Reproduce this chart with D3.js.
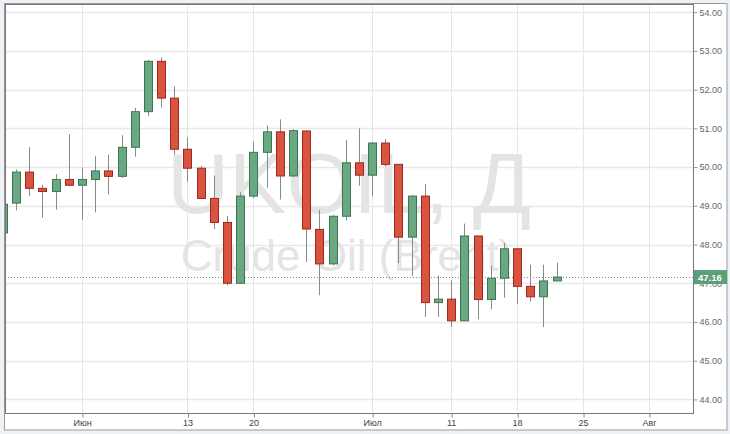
<!DOCTYPE html>
<html>
<head>
<meta charset="utf-8">
<script src="https://cdn.jsdelivr.net/npm/d3@7"></script>
<style>
  body { margin: 0; background: #eef2f6; }
  svg { display: block; font-family: "Liberation Sans", Arial, sans-serif; }
</style>
</head>
<body>
<div id="chart"></div>
<script>
// UKOIL daily candles (May 24 - Jul 21, 2016)
const dates = [
  "2016-05-24","2016-05-25","2016-05-26","2016-05-27","2016-05-30","2016-05-31",
  "2016-06-01","2016-06-02","2016-06-03","2016-06-06","2016-06-07","2016-06-08","2016-06-09","2016-06-10",
  "2016-06-13","2016-06-14","2016-06-15","2016-06-16","2016-06-17","2016-06-20","2016-06-21","2016-06-22",
  "2016-06-23","2016-06-24","2016-06-27","2016-06-28","2016-06-29","2016-06-30",
  "2016-07-01","2016-07-04","2016-07-05","2016-07-06","2016-07-07","2016-07-08","2016-07-11","2016-07-12",
  "2016-07-13","2016-07-14","2016-07-15","2016-07-18","2016-07-19","2016-07-20","2016-07-21"
];
const open  = [48.30,49.07,49.87,49.45,49.37,49.68,49.53,49.68,49.90,49.76,50.51,51.43,52.73,51.78,
               50.46,49.97,49.19,48.57,47.00,49.25,50.38,50.91,49.77,50.93,48.39,47.50,48.73,50.11,
               49.79,50.62,50.07,48.19,49.25,46.50,46.59,46.03,48.22,46.58,47.13,47.89,46.92,46.65,47.06];
const high  = [49.05,49.94,50.51,49.54,49.82,50.85,49.99,50.28,50.32,50.82,51.53,52.77,52.83,52.08,
               50.77,50.03,49.78,48.74,49.35,50.66,51.07,51.23,50.98,50.95,48.89,48.76,50.70,51.00,
               50.64,50.72,50.08,49.28,49.56,47.20,47.08,48.54,48.23,47.45,48.04,47.90,47.48,47.48,47.53];
const low   = [48.28,48.88,49.25,48.69,48.90,49.52,48.64,48.83,49.29,49.72,50.27,51.32,51.54,50.32,
               49.62,49.18,48.40,46.94,46.98,49.20,49.46,49.16,49.75,47.55,46.69,47.46,48.62,49.52,
               49.25,50.02,47.52,47.19,46.13,46.13,45.87,46.02,46.07,46.33,46.63,46.47,46.52,45.87,47.05];
const close = [49.04,49.87,49.45,49.37,49.68,49.53,49.68,49.90,49.76,50.51,51.43,52.73,51.78,50.46,
               49.97,49.19,48.57,47.00,49.25,50.38,50.91,49.77,50.94,48.40,47.50,48.73,50.11,49.79,
               50.62,50.07,48.19,49.25,46.50,46.59,46.03,48.22,46.58,47.13,47.89,46.92,46.65,47.06,47.16];

const tickDates  = ["2016-06-01","2016-06-13","2016-06-20","2016-07-01","2016-07-11","2016-07-18","2016-07-25","2016-08-01"];
const tickLabels = ["Июн","13","20","Июл","11","18","25","Авг"];
const priceTicks = [44,45,46,47,48,49,50,51,52,53,54];
const lastPrice = 47.16;
const titleText = "UKOIL, Д";
const subtitleText = "Crude Oil (Brent)";

const W = 730, H = 434;
const plot = { left: 5, top: 4, right: 693, bottom: 413 };

// index of a date counted in weekdays from the first candle
const start = new Date(dates[0] + "T00:00:00Z");
function tradeIndex(s) {
  const d = new Date(s + "T00:00:00Z");
  let n = 0;
  for (let t = new Date(start); t < d; t.setUTCDate(t.getUTCDate() + 1)) {
    const w = t.getUTCDay();
    if (w !== 0 && w !== 6) n++;
  }
  return n;
}

const data = dates.map((d, i) => ({
  i: tradeIndex(d), open: open[i], high: high[i], low: low[i], close: close[i]
}));

const x = d3.scaleLinear().domain([0.16, 52.34]).range([plot.left, plot.right]);
const y = d3.scaleLinear().domain([43.65, 54.21]).range([plot.bottom, plot.top]);

const svg = d3.select("#chart").append("svg").attr("width", W).attr("height", H);

// panel
svg.append("rect")
  .attr("x", 4.5).attr("y", 3.5).attr("width", 722.5).attr("height", 426.5)
  .attr("fill", "#fff").attr("stroke", "#9a9a9a");

svg.append("clipPath").attr("id", "clip")
  .append("rect")
  .attr("x", plot.left).attr("y", plot.top)
  .attr("width", plot.right - plot.left).attr("height", plot.bottom - plot.top);

// grid
const grid = svg.append("g");
grid.selectAll(".hg").data(priceTicks).join("line")
  .attr("x1", plot.left).attr("x2", plot.right)
  .attr("y1", d => Math.round(y(d)) + 0.5).attr("y2", d => Math.round(y(d)) + 0.5)
  .attr("stroke", "#e8e8e8").attr("stroke-width", 1.5);
grid.selectAll(".vg").data(tickDates).join("line")
  .attr("y1", plot.top).attr("y2", plot.bottom)
  .attr("x1", d => Math.round(x(tradeIndex(d))) + 0.5).attr("x2", d => Math.round(x(tradeIndex(d))) + 0.5)
  .attr("stroke", "#e6e6e6");

// watermark
const cx = (plot.left + plot.right) / 2;
svg.append("text").text(titleText)
  .attr("x", cx).attr("y", 213).attr("text-anchor", "middle")
  .attr("font-size", 86).attr("fill", "#e4e4e4");
svg.append("text").text(subtitleText)
  .attr("x", cx - 2).attr("y", 271).attr("text-anchor", "middle")
  .attr("font-size", 44).attr("fill", "#e4e4e4");

// last price line
svg.append("line")
  .attr("x1", plot.left).attr("x2", plot.right)
  .attr("y1", Math.round(y(lastPrice)) + 0.5).attr("y2", Math.round(y(lastPrice)) + 0.5)
  .attr("stroke", "#5b9f79").attr("stroke-dasharray", "1,2");

// candles
const candles = svg.append("g").attr("clip-path", "url(#clip)");
const up = "#68a883", upLine = "#3d7553";
const down = "#d95340", downLine = "#9b2a1d";

candles.selectAll(".wick").data(data).join("line")
  .attr("x1", d => Math.round(x(d.i)) + 0.5).attr("x2", d => Math.round(x(d.i)) + 0.5)
  .attr("y1", d => y(d.high)).attr("y2", d => y(d.low))
  .attr("stroke", "#8a8a8a");

candles.selectAll(".body").data(data).join("rect")
  .attr("x", d => Math.round(x(d.i)) - 3.5)
  .attr("width", 8)
  .attr("y", d => y(Math.max(d.open, d.close)))
  .attr("height", d => Math.max(1, Math.abs(y(d.open) - y(d.close))))
  .attr("fill", d => d.close >= d.open ? up : down)
  .attr("stroke", d => d.close >= d.open ? upLine : downLine);

// plot border
svg.append("rect")
  .attr("x", plot.left + 0.5).attr("y", plot.top + 0.5)
  .attr("width", plot.right - plot.left).attr("height", plot.bottom - plot.top)
  .attr("fill", "none").attr("stroke", "#777");

// y axis on the right
const yAxis = svg.append("g")
  .attr("transform", `translate(${plot.right + 0.5},0)`)
  .call(d3.axisRight(y).tickValues(priceTicks).tickSize(4).tickPadding(2).tickFormat(d3.format(".2f")));
yAxis.select(".domain").remove();
yAxis.selectAll("line").attr("stroke", "#999");
yAxis.selectAll("text").attr("fill", "#666").attr("font-size", 9).attr("font-family", "Liberation Sans, Arial, sans-serif");

// x axis
const xAxis = svg.append("g")
  .attr("transform", `translate(0,${plot.bottom + 0.5})`)
  .call(d3.axisBottom(x).tickValues(tickDates.map(tradeIndex)).tickSize(4).tickPadding(2)
    .tickFormat((d, i) => tickLabels[i]));
xAxis.select(".domain").remove();
xAxis.selectAll("line").attr("stroke", "#888").attr("transform", "translate(0.5,0)");
xAxis.selectAll("text").attr("fill", "#444").attr("font-size", 9).attr("font-family", "Liberation Sans, Arial, sans-serif");

// last price tag
const ly = y(lastPrice);
svg.append("rect")
  .attr("x", plot.right + 1).attr("y", ly - 7).attr("width", 33).attr("height", 14)
  .attr("fill", "#5b9f79");
svg.append("text").text(d3.format(".2f")(lastPrice))
  .attr("x", plot.right + 5).attr("y", ly + 3.5)
  .attr("fill", "#fff").attr("font-size", 9.5).attr("font-weight", "bold");
</script>
</body>
</html>
